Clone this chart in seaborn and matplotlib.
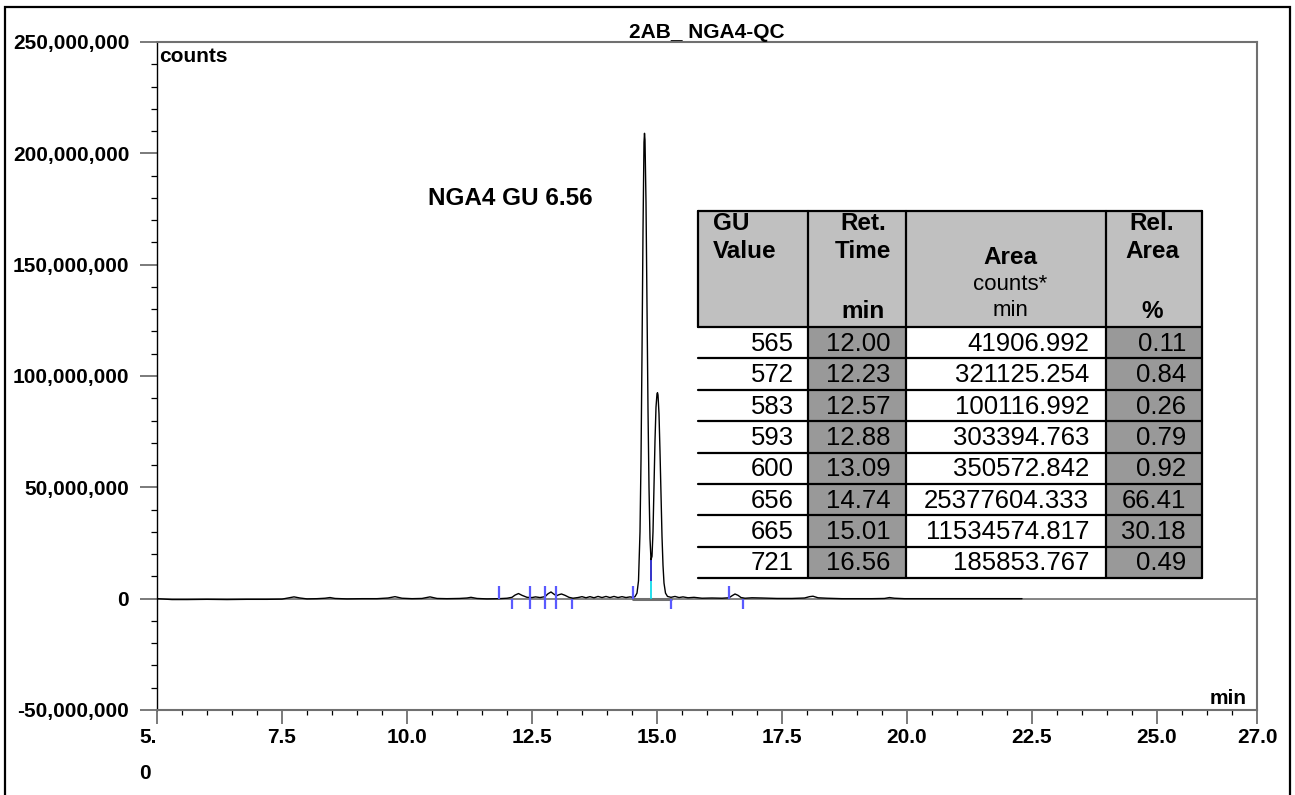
import numpy as np
import pandas as pd
import matplotlib as mpl
mpl.use('Agg')
import matplotlib.pyplot as plt
from matplotlib.patches import Rectangle
from matplotlib.lines import Line2D
from matplotlib.ticker import FuncFormatter, MultipleLocator
import seaborn as sns

# chromatogram trace: time (min) and signal (million counts)
rt_min = [5.00, 5.30, 5.60, 6.00, 6.40, 6.80, 7.20, 7.50, 7.62, 7.74,
          7.86, 8.00, 8.20, 8.36, 8.46, 8.56, 8.80, 9.10, 9.40, 9.62,
          9.76, 9.90, 10.10, 10.30, 10.46, 10.60, 10.80, 11.05, 11.20, 11.28,
          11.40, 11.60, 11.84, 12.00, 12.10, 12.16, 12.23, 12.30, 12.40, 12.50,
          12.57, 12.66, 12.76, 12.82, 12.88, 12.94, 12.99, 13.04, 13.09, 13.16,
          13.24, 13.32, 13.42, 13.50, 13.58, 13.66, 13.74, 13.82, 13.90, 13.98,
          14.06, 14.14, 14.22, 14.30, 14.38, 14.46, 14.52, 14.56, 14.60, 14.63,
          14.66, 14.68, 14.70, 14.72, 14.74, 14.75, 14.76, 14.78, 14.80, 14.82,
          14.84, 14.86, 14.88, 14.90, 14.92, 14.94, 14.96, 14.98, 15.00, 15.01,
          15.02, 15.04, 15.06, 15.08, 15.10, 15.12, 15.14, 15.17, 15.21, 15.28,
          15.36, 15.44, 15.52, 15.62, 15.74, 15.90, 16.10, 16.30, 16.44, 16.50,
          16.56, 16.62, 16.68, 16.76, 16.90, 17.10, 17.40, 17.70, 17.95, 18.05,
          18.12, 18.22, 18.40, 18.70, 19.00, 19.30, 19.55, 19.65, 19.75, 19.95,
          20.30, 20.80, 21.40, 22.00, 22.30]
signal_m = [0.0, -0.4, -0.4, -0.3, -0.4, -0.3, -0.3, -0.2, 0.3, 0.8,
            0.3, -0.1, 0.0, 0.2, 0.5, 0.1, -0.1, 0.0, 0.0, 0.3,
            0.9, 0.2, 0.0, 0.1, 0.8, 0.1, 0.0, 0.1, 0.3, 0.6,
            0.1, -0.1, 0.0, 0.2, 0.6, 1.6, 2.3, 1.5, 0.6, 0.5,
            0.8, 0.5, 0.9, 2.2, 3.0, 2.0, 1.3, 1.8, 2.1, 1.5,
            0.6, 0.2, 0.5, 0.9, 0.4, 0.9, 0.4, 1.0, 0.5, 1.0,
            0.5, 1.0, 0.5, 0.9, 0.5, 0.8, 0.6, 0.9, 2.5, 8.0,
            30.0, 62.0, 110.0, 165.0, 205.0, 209.0, 206.0, 178.0, 130.0, 85.0,
            50.0, 27.0, 17.5, 19.0, 30.0, 50.0, 71.0, 86.0, 92.0, 92.5,
            91.5, 83.0, 66.0, 46.0, 28.0, 15.0, 7.0, 2.5, 1.0, 0.6,
            1.0, 0.5, 0.8, 0.4, 0.6, 0.2, 0.3, 0.2, 0.4, 1.3,
            2.1, 1.5, 0.5, 0.2, 0.4, 0.3, 0.1, 0.1, 0.3, 0.9,
            1.1, 0.4, 0.2, 0.0, 0.0, 0.0, 0.1, 0.5, 0.2, 0.0,
            0.0, 0.0, 0.0, 0.0, 0.0]

# integration marks
peak_starts = [11.84, 12.46, 12.76, 12.98, 14.52, 16.44]
peak_ends = [12.10, 12.46, 12.76, 12.98, 13.30, 15.28, 16.72]
valley_rt = 14.88
valley_m = 17.5

# peak table
gu_value = ['565', '572', '583', '593', '600', '656', '665', '721']
ret_time = ['12.00', '12.23', '12.57', '12.88', '13.09', '14.74', '15.01', '16.56']
area = ['41906.992', '321125.254', '100116.992', '303394.763', '350572.842',
        '25377604.333', '11534574.817', '185853.767']
rel_area = ['0.11', '0.84', '0.26', '0.79', '0.92', '66.41', '30.18', '0.49']

x_ticks = [5, 7.5, 10, 12.5, 15, 17.5, 20, 22.5, 25, 27]
x_labels = ['5.\n0', '7.5', '10.0', '12.5', '15.0', '17.5', '20.0', '22.5', '25.0', '27.0']

sns.set_theme(style='white')
plt.rcParams['font.family'] = ['Liberation Sans', 'DejaVu Sans']
plt.rcParams['text.color'] = 'black'
plt.rcParams['axes.titlecolor'] = 'black'

W, H = 1295, 795
fig = plt.figure(figsize=(W / 100, H / 100), dpi=100)
ax = fig.add_axes([157 / W, 1 - 710 / H, 1100 / W, 668 / H])


def fx(px):
    return px / W


def fy(py):
    return 1 - py / H


df = pd.DataFrame({'rt': rt_min, 'counts': np.array(signal_m) * 1e6})

ax.axhline(0, color='#707070', lw=1.2, zorder=1)
ax.plot([peak_starts[4], peak_ends[5]], [0, 0], color='#707070', lw=2.2, zorder=1)
sns.lineplot(data=df, x='rt', y='counts', color='black', lw=1.0,
             estimator=None, sort=False, ax=ax, zorder=3)

ax.vlines(peak_starts, 0, 5.8e6, colors='#5a5aff', lw=1.6, zorder=4)
ax.vlines(peak_ends, -4.5e6, 0, colors='#5a5aff', lw=1.6, zorder=4)
ax.vlines(valley_rt, 0, 8e6, colors='#00d8e8', lw=1.2, zorder=4)
ax.vlines(valley_rt, 8e6, valley_m * 1e6, colors='#1010c0', lw=1.2, zorder=4)

ax.set_xlim(5, 27)
ax.set_ylim(-50e6, 250e6)
ax.set_xlabel('')
ax.set_ylabel('')

ax.set_xticks(x_ticks)
ax.set_xticklabels(x_labels)
ax.xaxis.set_minor_locator(MultipleLocator(0.5))
ax.set_yticks(np.arange(-50e6, 251e6, 50e6))
ax.yaxis.set_major_formatter(FuncFormatter(lambda v, p: '{:,.0f}'.format(v)))
ax.yaxis.set_minor_locator(MultipleLocator(10e6))

ax.tick_params(axis='x', which='major', bottom=True, direction='out', length=10,
               width=1.3, color='#707070', labelsize=15, pad=3, labelcolor='black')
ax.tick_params(axis='y', which='major', left=True, direction='out', length=12,
               width=1.3, color='#707070', labelsize=15, pad=8, labelcolor='black')
ax.tick_params(axis='x', which='minor', bottom=True, direction='out', length=3.5,
               width=0.9, color='black')
ax.tick_params(axis='y', which='minor', left=True, direction='out', length=4.5,
               width=0.9, color='black')

for lbl in ax.get_xticklabels() + ax.get_yticklabels():
    lbl.set_fontweight('bold')
first = ax.get_xticklabels()[0]
first.set_linespacing(2.1)
first.set_horizontalalignment('right')
first.set_multialignment('left')

for side in ['top', 'right', 'bottom']:
    ax.spines[side].set_color('#707070')
    ax.spines[side].set_linewidth(1.5)
ax.spines['left'].set_color('black')
ax.spines['left'].set_linewidth(1.0)

ax.set_title('2AB_ NGA4-QC', fontsize=15, fontweight='bold', pad=2, color='black')
ax.text(0.002, 1 - 5 / 668, 'counts', transform=ax.transAxes, ha='left', va='top',
        fontsize=15, fontweight='bold', color='black')
ax.text(1 - 10 / 1100, 6 / 668, 'min', transform=ax.transAxes, ha='right',
        va='baseline', fontsize=15, fontweight='bold', color='black')
ax.text(12.06, 179.6e6, 'NGA4 GU 6.56', ha='center', va='center',
        fontsize=17.5, fontweight='bold', color='black')

# outer frame
fig.add_artist(Rectangle((fx(5), fy(800)), fx(1290) - fx(5), fy(7) - fy(800),
                         transform=fig.transFigure, fill=False, ec='black', lw=1.6))

# peak table
edges = [698, 808, 906, 1106, 1202]
head_top, head_bot = 211, 327
row_h = 31.4
tab_bot = head_bot + row_h * len(gu_value)
light, dark = '#c0c0c0', '#999999'


def box(x0, y0, x1, y1, fc, ec='none', lw=0):
    fig.add_artist(Rectangle((fx(x0), fy(y1)), fx(x1) - fx(x0), fy(y0) - fy(y1),
                             transform=fig.transFigure, fc=fc, ec=ec, lw=lw, zorder=5))


def hline(x0, x1, y):
    fig.add_artist(Line2D([fx(x0), fx(x1)], [fy(y), fy(y)], transform=fig.transFigure,
                          color='black', lw=1.6, zorder=6))


def vline(x, y0, y1):
    fig.add_artist(Line2D([fx(x), fx(x)], [fy(y0), fy(y1)], transform=fig.transFigure,
                          color='black', lw=1.6, zorder=6))


box(edges[0], head_top, edges[4], head_bot, light)
box(edges[0], head_bot, edges[1], tab_bot, 'white')
box(edges[1], head_bot, edges[2], tab_bot, dark)
box(edges[2], head_bot, edges[3], tab_bot, 'white')
box(edges[3], head_bot, edges[4], tab_bot, dark)
hline(edges[0], edges[4], head_top)
vline(edges[0], head_top, head_bot)
for i in range(len(gu_value) + 1):
    hline(edges[0], edges[4], head_bot + i * row_h)
for x in edges[1:]:
    vline(x, head_top, tab_bot)


def ttext(x, y, s, ha='center', bold=True, size=17.5):
    fig.text(fx(x), fy(y), s, ha=ha, va='center', fontsize=size, color='black',
             fontweight='bold' if bold else 'normal', zorder=7)


ttext(713, 224, 'GU', ha='left')
ttext(713, 251, 'Value', ha='left')
ttext(863, 224, 'Ret.')
ttext(863, 251, 'Time')
ttext(863, 312, 'min')
ttext(1010, 258, 'Area')
ttext(1010, 285, 'counts*', bold=False, size=16)
ttext(1010, 311, 'min', bold=False, size=16)
ttext(1152, 224, 'Rel.')
ttext(1152, 251, 'Area')
ttext(1152, 312, '%')

for i in range(len(gu_value)):
    yc = head_bot + (i + 0.5) * row_h + 1
    ttext(794, yc, gu_value[i], ha='right', bold=False, size=18.5)
    ttext(858, yc, ret_time[i], bold=False, size=18.5)
    ttext(1089, yc, area[i], ha='right', bold=False, size=18.5)
    ttext(1186, yc, rel_area[i], ha='right', bold=False, size=18.5)

fig.savefig('out.png', dpi=100)
